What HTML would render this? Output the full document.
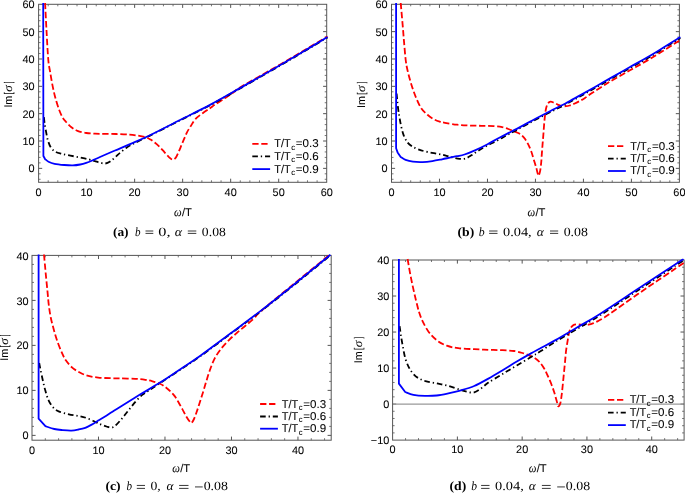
<!DOCTYPE html>
<html><head><meta charset="utf-8"><style>
html,body{margin:0;padding:0;background:#fff;}
svg{display:block;text-rendering:geometricPrecision;filter:blur(0.3px);}
text{font-family:"Liberation Sans",sans-serif;fill:#000;stroke:#000;stroke-width:0.06px;}
.tl{font-size:10.9px;}
.lg{font-size:11.4px;}
.sub{font-size:8px;}
.al{font-size:11.2px;}
.it{font-family:"Liberation Serif",serif;font-style:italic;font-size:12px;}
.cb{font-family:"Liberation Serif",serif;font-weight:bold;font-size:12.6px;stroke-width:0;}
.ci{font-family:"Liberation Serif",serif;font-style:italic;font-size:12.6px;stroke-width:0;}
.cr{font-family:"Liberation Serif",serif;font-size:12.6px;stroke-width:0;}
</style></head><body>
<svg width="685" height="493" viewBox="0 0 685 493">
<rect width="685" height="493" fill="#fff"/>
<clipPath id="ca"><rect x="37.1" y="2.8" width="291.1" height="181"/></clipPath>
<path d="M48.2 182.3v-2M48.2 4.3v2M57.81 182.3v-2M57.81 4.3v2M67.41 182.3v-2M67.41 4.3v2M77.01 182.3v-2M77.01 4.3v2M96.22 182.3v-2M96.22 4.3v2M105.82 182.3v-2M105.82 4.3v2M115.43 182.3v-2M115.43 4.3v2M125.03 182.3v-2M125.03 4.3v2M144.24 182.3v-2M144.24 4.3v2M153.84 182.3v-2M153.84 4.3v2M163.44 182.3v-2M163.44 4.3v2M173.05 182.3v-2M173.05 4.3v2M192.25 182.3v-2M192.25 4.3v2M201.86 182.3v-2M201.86 4.3v2M211.46 182.3v-2M211.46 4.3v2M221.06 182.3v-2M221.06 4.3v2M240.27 182.3v-2M240.27 4.3v2M249.87 182.3v-2M249.87 4.3v2M259.48 182.3v-2M259.48 4.3v2M269.08 182.3v-2M269.08 4.3v2M288.29 182.3v-2M288.29 4.3v2M297.89 182.3v-2M297.89 4.3v2M307.49 182.3v-2M307.49 4.3v2M317.1 182.3v-2M317.1 4.3v2M38.6 179.29h2M326.7 179.29h-2M38.6 173.82h2M326.7 173.82h-2M38.6 162.89h2M326.7 162.89h-2M38.6 157.42h2M326.7 157.42h-2M38.6 151.95h2M326.7 151.95h-2M38.6 146.48h2M326.7 146.48h-2M38.6 135.54h2M326.7 135.54h-2M38.6 130.08h2M326.7 130.08h-2M38.6 124.61h2M326.7 124.61h-2M38.6 119.14h2M326.7 119.14h-2M38.6 108.2h2M326.7 108.2h-2M38.6 102.73h2M326.7 102.73h-2M38.6 97.26h2M326.7 97.26h-2M38.6 91.8h2M326.7 91.8h-2M38.6 80.86h2M326.7 80.86h-2M38.6 75.39h2M326.7 75.39h-2M38.6 69.92h2M326.7 69.92h-2M38.6 64.45h2M326.7 64.45h-2M38.6 53.52h2M326.7 53.52h-2M38.6 48.05h2M326.7 48.05h-2M38.6 42.58h2M326.7 42.58h-2M38.6 37.11h2M326.7 37.11h-2M38.6 26.17h2M326.7 26.17h-2M38.6 20.71h2M326.7 20.71h-2M38.6 15.24h2M326.7 15.24h-2M38.6 9.77h2M326.7 9.77h-2" stroke="#777" stroke-width="1" fill="none"/>
<path d="M86.62 182.3v-3.6M86.62 4.3v3.6M134.63 182.3v-3.6M134.63 4.3v3.6M182.65 182.3v-3.6M182.65 4.3v3.6M230.67 182.3v-3.6M230.67 4.3v3.6M278.68 182.3v-3.6M278.68 4.3v3.6M38.6 168.36h3.6M326.7 168.36h-3.6M38.6 141.01h3.6M326.7 141.01h-3.6M38.6 113.67h3.6M326.7 113.67h-3.6M38.6 86.33h3.6M326.7 86.33h-3.6M38.6 58.99h3.6M326.7 58.99h-3.6M38.6 31.64h3.6M326.7 31.64h-3.6" stroke="#555" stroke-width="1" fill="none"/>
<rect x="38.6" y="4.3" width="288.1" height="178" stroke="#555" stroke-width="1" fill="none"/>
<text x="38.6" y="196" class="tl" text-anchor="middle">0</text>
<text x="86.62" y="196" class="tl" text-anchor="middle">10</text>
<text x="134.63" y="196" class="tl" text-anchor="middle">20</text>
<text x="182.65" y="196" class="tl" text-anchor="middle">30</text>
<text x="230.67" y="196" class="tl" text-anchor="middle">40</text>
<text x="278.68" y="196" class="tl" text-anchor="middle">50</text>
<text x="326.7" y="196" class="tl" text-anchor="middle">60</text>
<text x="34.6" y="172.46" class="tl" text-anchor="end">0</text>
<text x="34.6" y="145.11" class="tl" text-anchor="end">10</text>
<text x="34.6" y="117.77" class="tl" text-anchor="end">20</text>
<text x="34.6" y="90.43" class="tl" text-anchor="end">30</text>
<text x="34.6" y="63.09" class="tl" text-anchor="end">40</text>
<text x="34.6" y="35.74" class="tl" text-anchor="end">50</text>
<text x="34.6" y="8.4" class="tl" text-anchor="end">60</text>
<g clip-path="url(#ca)">
<path d="M45.1 3C45.33 7.57 45.97 20.9 46.5 30.4C47.03 39.9 47.68 53.03 48.3 60C48.92 66.97 49.53 68.15 50.2 72.2C50.87 76.25 51.5 80.25 52.3 84.3C53.1 88.35 53.93 92.45 55 96.5C56.07 100.55 57.45 105.13 58.7 108.6C59.95 112.07 61.27 115.07 62.5 117.3C63.73 119.53 64.62 120.33 66.1 122C67.58 123.67 69.5 125.83 71.4 127.3C73.3 128.77 75.02 129.85 77.5 130.8C79.98 131.75 83.38 132.52 86.3 133C89.22 133.48 92.08 133.55 95 133.7C97.92 133.85 100.25 133.85 103.8 133.9C107.35 133.95 112.03 133.88 116.3 134C120.57 134.12 125.75 134.32 129.4 134.6C133.05 134.88 135.45 135.25 138.2 135.7C140.95 136.15 143.85 136.65 145.9 137.3C147.95 137.95 148.98 138.68 150.5 139.6C152.02 140.52 153.48 141.58 155 142.8C156.52 144.02 158.07 145.38 159.6 146.9C161.13 148.42 162.68 150.23 164.2 151.9C165.72 153.57 167.32 155.62 168.7 156.9C170.08 158.18 171.32 159.48 172.5 159.6C173.68 159.72 174.75 158.95 175.8 157.6C176.85 156.25 177.85 153.58 178.8 151.5C179.75 149.42 180.6 147.23 181.5 145.1C182.4 142.97 183.28 140.83 184.2 138.7C185.12 136.57 185.93 134.37 187 132.3C188.07 130.23 189.17 128.55 190.6 126.3C192.03 124.05 193.58 120.98 195.6 118.8C197.62 116.62 200.3 114.97 202.7 113.2C205.1 111.43 207.93 109.65 210 108.2C212.07 106.75 212.55 106.22 215.1 104.5C217.65 102.78 222.32 99.85 225.3 97.9C228.28 95.95 230.55 94.53 233 92.8C235.45 91.07 233.83 91.23 240 87.5C246.17 83.77 260 76.17 270 70.4C280 64.63 290.42 58.57 300 52.9C309.58 47.23 322.92 39.15 327.5 36.4" stroke="#f00" stroke-width="1.8" fill="none" stroke-linejoin="round" stroke-dasharray="6.3 2.7"/>
<path d="M43.9 117.2C44.02 118.23 44.23 120.95 44.6 123.4C44.97 125.85 45.55 129.07 46.1 131.9C46.65 134.73 47.08 137.77 47.9 140.4C48.72 143.03 49.68 145.77 51 147.7C52.32 149.63 53.98 150.98 55.8 152C57.62 153.02 59.47 153.2 61.9 153.8C64.33 154.4 67.35 154.98 70.4 155.6C73.45 156.22 77.15 156.88 80.2 157.5C83.25 158.12 86.27 158.7 88.7 159.3C91.13 159.9 92.92 160.53 94.8 161.1C96.68 161.67 98.25 162.3 100 162.7C101.75 163.1 103.62 163.7 105.3 163.5C106.98 163.3 108.42 162.57 110.1 161.5C111.78 160.43 113.65 158.63 115.4 157.1C117.15 155.57 118.7 153.9 120.6 152.3C122.5 150.7 124.9 148.82 126.8 147.5C128.7 146.18 130.4 145.27 132 144.4C133.6 143.53 134.73 143.1 136.4 142.3C138.07 141.5 139.73 140.72 142 139.6C144.27 138.48 143.67 138.8 150 135.6C156.33 132.4 170 125.45 180 120.4C190 115.35 200 110.62 210 105.3C220 99.98 230 94.15 240 88.5C250 82.85 260 77.17 270 71.4C280 65.63 290.42 59.57 300 53.9C309.58 48.23 322.92 40.15 327.5 37.4" stroke="#000" stroke-width="1.8" fill="none" stroke-linejoin="round" stroke-dasharray="5.6 2.9 1.3 2.9"/>
<path d="M43.2 3L43.4 156L45.2 159.2C45.75 159.62 46.93 160.93 48.5 161.7C50.07 162.47 51.97 163.25 54.6 163.8C57.23 164.35 61.25 164.73 64.3 165C67.35 165.27 70.25 165.48 72.9 165.4C75.55 165.32 77.98 164.92 80.2 164.5C82.42 164.08 84.18 163.57 86.2 162.9C88.22 162.23 90 161.48 92.3 160.5C94.6 159.52 96.22 158.67 100 157C103.78 155.33 110 152.65 115 150.5C120 148.35 124.17 146.65 130 144.1C135.83 141.55 141.67 139.22 150 135.2C158.33 131.18 170 125.05 180 120C190 114.95 200 110.22 210 104.9C220 99.58 230 93.75 240 88.1C250 82.45 260 76.77 270 71C280 65.23 290.42 59.17 300 53.5C309.58 47.83 322.92 39.75 327.5 37" stroke="#0000ff" stroke-width="1.8" fill="none" stroke-linejoin="round"/>
</g>
<path d="M252.3 143.9H268.3" stroke="#f00" stroke-width="1.8" fill="none" stroke-dasharray="6.3 2.7"/>
<text x="274.25" y="147.3" class="lg" textLength="16.5" lengthAdjust="spacingAndGlyphs">T/T</text>
<text x="291.27" y="149.6" class="sub" textLength="3.83" lengthAdjust="spacingAndGlyphs">c</text>
<text x="295.83" y="147.3" class="lg" textLength="22.88" lengthAdjust="spacingAndGlyphs">=0.3</text>
<path d="M252.3 156.4H270.1" stroke="#000" stroke-width="1.8" fill="none" stroke-dasharray="5.6 2.9 1.3 2.9"/>
<text x="274.25" y="159.8" class="lg" textLength="16.5" lengthAdjust="spacingAndGlyphs">T/T</text>
<text x="291.27" y="162.1" class="sub" textLength="3.83" lengthAdjust="spacingAndGlyphs">c</text>
<text x="295.83" y="159.8" class="lg" textLength="22.88" lengthAdjust="spacingAndGlyphs">=0.6</text>
<path d="M252.3 169.1H270.1" stroke="#0000ff" stroke-width="1.8" fill="none"/>
<text x="274.25" y="172.5" class="lg" textLength="16.5" lengthAdjust="spacingAndGlyphs">T/T</text>
<text x="291.27" y="174.8" class="sub" textLength="3.83" lengthAdjust="spacingAndGlyphs">c</text>
<text x="295.83" y="172.5" class="lg" textLength="22.92" lengthAdjust="spacingAndGlyphs">=0.9</text>
<g transform="translate(12 0) rotate(-90)">
<text x="-107.58" y="0" class="al" textLength="11.78" lengthAdjust="spacingAndGlyphs">Im</text>
<text x="-94.47" y="0" class="al" textLength="2.24" lengthAdjust="spacingAndGlyphs">[</text>
<text x="-91.69" y="0" class="it" textLength="6.47" lengthAdjust="spacingAndGlyphs">σ</text>
<text x="-82.94" y="0" class="al" textLength="1.4" lengthAdjust="spacingAndGlyphs">]</text>
</g>
<text x="173.94" y="216.2" class="it" textLength="7.63" lengthAdjust="spacingAndGlyphs">ω</text>
<text x="181.9" y="216.2" class="al" textLength="9.96" lengthAdjust="spacingAndGlyphs">/T</text>
<text x="112.91" y="235.8" class="cb" textLength="15.68" lengthAdjust="spacingAndGlyphs">(a)</text>
<text x="134.99" y="235.8" class="ci" textLength="5.55" lengthAdjust="spacingAndGlyphs">b</text>
<path d="M145.5 231H153.3M145.5 233.4H153.3" stroke="#222" stroke-width="0.9" fill="none"/>
<text x="158.38" y="235.8" class="cr" textLength="12.25" lengthAdjust="spacingAndGlyphs">0,</text>
<text x="174.69" y="235.8" class="ci" textLength="7.28" lengthAdjust="spacingAndGlyphs">α</text>
<path d="M187.8 231H196.3M187.8 233.4H196.3" stroke="#222" stroke-width="0.9" fill="none"/>
<text x="201.88" y="235.8" class="cr" textLength="23.94" lengthAdjust="spacingAndGlyphs">0.08</text>
<clipPath id="cbp"><rect x="390" y="2.8" width="290.9" height="181"/></clipPath>
<path d="M401.1 182.3v-2M401.1 4.3v2M410.69 182.3v-2M410.69 4.3v2M420.29 182.3v-2M420.29 4.3v2M429.89 182.3v-2M429.89 4.3v2M449.08 182.3v-2M449.08 4.3v2M458.68 182.3v-2M458.68 4.3v2M468.27 182.3v-2M468.27 4.3v2M477.87 182.3v-2M477.87 4.3v2M497.06 182.3v-2M497.06 4.3v2M506.66 182.3v-2M506.66 4.3v2M516.26 182.3v-2M516.26 4.3v2M525.85 182.3v-2M525.85 4.3v2M545.05 182.3v-2M545.05 4.3v2M554.64 182.3v-2M554.64 4.3v2M564.24 182.3v-2M564.24 4.3v2M573.84 182.3v-2M573.84 4.3v2M593.03 182.3v-2M593.03 4.3v2M602.63 182.3v-2M602.63 4.3v2M612.22 182.3v-2M612.22 4.3v2M621.82 182.3v-2M621.82 4.3v2M641.01 182.3v-2M641.01 4.3v2M650.61 182.3v-2M650.61 4.3v2M660.21 182.3v-2M660.21 4.3v2M669.8 182.3v-2M669.8 4.3v2M391.5 179.29h2M679.4 179.29h-2M391.5 173.82h2M679.4 173.82h-2M391.5 162.89h2M679.4 162.89h-2M391.5 157.42h2M679.4 157.42h-2M391.5 151.95h2M679.4 151.95h-2M391.5 146.48h2M679.4 146.48h-2M391.5 135.54h2M679.4 135.54h-2M391.5 130.08h2M679.4 130.08h-2M391.5 124.61h2M679.4 124.61h-2M391.5 119.14h2M679.4 119.14h-2M391.5 108.2h2M679.4 108.2h-2M391.5 102.73h2M679.4 102.73h-2M391.5 97.26h2M679.4 97.26h-2M391.5 91.8h2M679.4 91.8h-2M391.5 80.86h2M679.4 80.86h-2M391.5 75.39h2M679.4 75.39h-2M391.5 69.92h2M679.4 69.92h-2M391.5 64.45h2M679.4 64.45h-2M391.5 53.52h2M679.4 53.52h-2M391.5 48.05h2M679.4 48.05h-2M391.5 42.58h2M679.4 42.58h-2M391.5 37.11h2M679.4 37.11h-2M391.5 26.17h2M679.4 26.17h-2M391.5 20.71h2M679.4 20.71h-2M391.5 15.24h2M679.4 15.24h-2M391.5 9.77h2M679.4 9.77h-2" stroke="#777" stroke-width="1" fill="none"/>
<path d="M439.48 182.3v-3.6M439.48 4.3v3.6M487.47 182.3v-3.6M487.47 4.3v3.6M535.45 182.3v-3.6M535.45 4.3v3.6M583.43 182.3v-3.6M583.43 4.3v3.6M631.42 182.3v-3.6M631.42 4.3v3.6M391.5 168.36h3.6M679.4 168.36h-3.6M391.5 141.01h3.6M679.4 141.01h-3.6M391.5 113.67h3.6M679.4 113.67h-3.6M391.5 86.33h3.6M679.4 86.33h-3.6M391.5 58.99h3.6M679.4 58.99h-3.6M391.5 31.64h3.6M679.4 31.64h-3.6" stroke="#555" stroke-width="1" fill="none"/>
<rect x="391.5" y="4.3" width="287.9" height="178" stroke="#555" stroke-width="1" fill="none"/>
<text x="391.5" y="196" class="tl" text-anchor="middle">0</text>
<text x="439.48" y="196" class="tl" text-anchor="middle">10</text>
<text x="487.47" y="196" class="tl" text-anchor="middle">20</text>
<text x="535.45" y="196" class="tl" text-anchor="middle">30</text>
<text x="583.43" y="196" class="tl" text-anchor="middle">40</text>
<text x="631.42" y="196" class="tl" text-anchor="middle">50</text>
<text x="679.4" y="196" class="tl" text-anchor="middle">60</text>
<text x="387.5" y="172.46" class="tl" text-anchor="end">0</text>
<text x="387.5" y="145.11" class="tl" text-anchor="end">10</text>
<text x="387.5" y="117.77" class="tl" text-anchor="end">20</text>
<text x="387.5" y="90.43" class="tl" text-anchor="end">30</text>
<text x="387.5" y="63.09" class="tl" text-anchor="end">40</text>
<text x="387.5" y="35.74" class="tl" text-anchor="end">50</text>
<text x="387.5" y="8.4" class="tl" text-anchor="end">60</text>
<g clip-path="url(#cbp)">
<path d="M400.7 3C401.02 6.55 402.03 17.7 402.6 24.3C403.17 30.9 403.58 36.65 404.1 42.6C404.62 48.55 405.15 55.48 405.7 60C406.25 64.52 406.7 66.45 407.4 69.7C408.1 72.95 408.98 76.25 409.9 79.5C410.82 82.75 411.78 85.97 412.9 89.2C414.02 92.43 415.18 95.68 416.6 98.9C418.02 102.12 419.58 105.85 421.4 108.5C423.22 111.15 425.47 113.03 427.5 114.8C429.53 116.57 431.57 117.97 433.6 119.1C435.63 120.23 437.8 120.98 439.7 121.6C441.6 122.22 442.08 122.28 445 122.8C447.92 123.32 453.13 124.25 457.2 124.7C461.27 125.15 465.35 125.32 469.4 125.5C473.45 125.68 477.45 125.7 481.5 125.8C485.55 125.9 490.25 125.88 493.7 126.1C497.15 126.32 499.55 126.53 502.2 127.1C504.85 127.67 507.37 128.7 509.6 129.5C511.83 130.3 513.7 131.05 515.6 131.9C517.5 132.75 519.42 133.4 521 134.6C522.58 135.8 523.83 137.33 525.1 139.1C526.37 140.87 527.58 143.17 528.6 145.2C529.62 147.23 530.35 148.93 531.2 151.3C532.05 153.67 532.87 156.68 533.7 159.4C534.53 162.12 535.53 165.25 536.2 167.6C536.87 169.95 537.28 172.17 537.7 173.5C538.12 174.83 538.28 176.08 538.7 175.6C539.12 175.12 539.78 172.78 540.2 170.6C540.62 168.42 540.93 165.2 541.2 162.5C541.47 159.8 541.58 157.28 541.8 154.4C542.02 151.52 542.25 148.35 542.5 145.2C542.75 142.05 543.03 138.92 543.3 135.5C543.57 132.08 543.82 128.03 544.1 124.7C544.38 121.37 544.67 118.25 545 115.5C545.33 112.75 545.63 110.17 546.1 108.2C546.57 106.23 547.07 104.78 547.8 103.7C548.53 102.62 549.43 101.85 550.5 101.7C551.57 101.55 552.98 102.32 554.2 102.8C555.42 103.28 556.58 104.07 557.8 104.6C559.02 105.13 560.13 105.73 561.5 106C562.87 106.27 564.63 106.28 566 106.2C567.37 106.12 568.33 105.92 569.7 105.5C571.07 105.08 572.53 104.45 574.2 103.7C575.87 102.95 577.9 101.97 579.7 101C581.5 100.03 582.88 99.27 585 97.9C587.12 96.53 589.65 94.63 592.4 92.8C595.15 90.97 598.57 88.77 601.5 86.9C604.43 85.03 605.25 84.37 610 81.6C614.75 78.83 623.33 74.08 630 70.3C636.67 66.52 641.6 63.95 650 58.9C658.4 53.85 675.33 43.15 680.4 40" stroke="#f00" stroke-width="1.8" fill="none" stroke-linejoin="round" stroke-dasharray="6.3 2.7"/>
<path d="M396.6 93.5C396.72 94.75 397.02 98.25 397.3 101C397.58 103.75 397.93 107.28 398.3 110C398.67 112.72 399 114.47 399.5 117.3C400 120.13 400.58 123.95 401.3 127C402.02 130.05 402.78 133.05 403.8 135.6C404.82 138.15 405.98 140.48 407.4 142.3C408.82 144.12 410.37 145.28 412.3 146.5C414.23 147.72 416.47 148.68 419 149.6C421.53 150.52 424.47 151.3 427.5 152C430.53 152.7 434.28 153.25 437.2 153.8C440.12 154.35 442.48 154.68 445 155.3C447.52 155.92 449.87 156.9 452.3 157.5C454.73 158.1 457.37 158.75 459.6 158.9C461.83 159.05 463.67 159.03 465.7 158.4C467.73 157.77 469.57 156.47 471.8 155.1C474.03 153.73 476.47 151.83 479.1 150.2C481.73 148.57 484.55 146.92 487.6 145.3C490.65 143.68 494.15 142.22 497.4 140.5C500.65 138.78 504.07 136.65 507.1 135C510.13 133.35 512.62 132.2 515.6 130.6C518.58 129 521.77 127.17 525 125.4C528.23 123.63 530.83 122.2 535 120C539.17 117.8 545 114.75 550 112.2C555 109.65 560 107.33 565 104.7C570 102.07 575 99.18 580 96.4C585 93.62 590 90.83 595 88C600 85.17 604.17 82.73 610 79.4C615.83 76.07 623.33 71.78 630 68C636.67 64.22 641.6 61.7 650 56.7C658.4 51.7 675.33 41.12 680.4 38" stroke="#000" stroke-width="1.8" fill="none" stroke-linejoin="round" stroke-dasharray="5.6 2.9 1.3 2.9"/>
<path d="M396.1 3L396.1 148.3L397.6 152.4L400.7 156.9C401.52 157.4 403.57 159.1 405.6 159.9C407.63 160.7 410.07 161.33 412.9 161.7C415.73 162.07 419.35 162.2 422.6 162.1C425.85 162 429.17 161.57 432.4 161.1C435.63 160.63 439.07 159.88 442 159.3C444.93 158.72 447.5 158.12 450 157.6C452.5 157.08 454.58 156.72 457 156.2C459.42 155.68 461.42 155.52 464.5 154.5C467.58 153.48 471.65 151.82 475.5 150.1C479.35 148.38 483.55 146.3 487.6 144.2C491.65 142.1 495.73 139.65 499.8 137.5C503.87 135.35 507.8 133.48 512 131.3C516.2 129.12 521.17 126.45 525 124.4C528.83 122.35 530.83 121.2 535 119C539.17 116.8 545 113.75 550 111.2C555 108.65 560 106.33 565 103.7C570 101.07 575 98.18 580 95.4C585 92.62 590 89.83 595 87C600 84.17 604.17 81.73 610 78.4C615.83 75.07 623.33 70.78 630 67C636.67 63.22 641.6 60.7 650 55.7C658.4 50.7 675.33 40.12 680.4 37" stroke="#0000ff" stroke-width="1.8" fill="none" stroke-linejoin="round"/>
</g>
<path d="M608 146.2H624" stroke="#f00" stroke-width="1.8" fill="none" stroke-dasharray="6.3 2.7"/>
<text x="630.35" y="149.5" class="lg" textLength="16.5" lengthAdjust="spacingAndGlyphs">T/T</text>
<text x="647.37" y="151.8" class="sub" textLength="3.83" lengthAdjust="spacingAndGlyphs">c</text>
<text x="651.93" y="149.5" class="lg" textLength="22.88" lengthAdjust="spacingAndGlyphs">=0.3</text>
<path d="M608 158.7H625.8" stroke="#000" stroke-width="1.8" fill="none" stroke-dasharray="5.6 2.9 1.3 2.9"/>
<text x="630.35" y="162" class="lg" textLength="16.5" lengthAdjust="spacingAndGlyphs">T/T</text>
<text x="647.37" y="164.3" class="sub" textLength="3.83" lengthAdjust="spacingAndGlyphs">c</text>
<text x="651.93" y="162" class="lg" textLength="22.88" lengthAdjust="spacingAndGlyphs">=0.6</text>
<path d="M608 171H625.8" stroke="#0000ff" stroke-width="1.8" fill="none"/>
<text x="630.35" y="174.3" class="lg" textLength="16.5" lengthAdjust="spacingAndGlyphs">T/T</text>
<text x="647.37" y="176.6" class="sub" textLength="3.83" lengthAdjust="spacingAndGlyphs">c</text>
<text x="651.93" y="174.3" class="lg" textLength="22.92" lengthAdjust="spacingAndGlyphs">=0.9</text>
<g transform="translate(365 0) rotate(-90)">
<text x="-107.88" y="0" class="al" textLength="11.78" lengthAdjust="spacingAndGlyphs">Im</text>
<text x="-94.77" y="0" class="al" textLength="2.24" lengthAdjust="spacingAndGlyphs">[</text>
<text x="-91.99" y="0" class="it" textLength="6.47" lengthAdjust="spacingAndGlyphs">σ</text>
<text x="-83.24" y="0" class="al" textLength="1.4" lengthAdjust="spacingAndGlyphs">]</text>
</g>
<text x="527.44" y="216.4" class="it" textLength="7.63" lengthAdjust="spacingAndGlyphs">ω</text>
<text x="535.4" y="216.4" class="al" textLength="9.96" lengthAdjust="spacingAndGlyphs">/T</text>
<text x="457.5" y="235.8" class="cb" textLength="16.7" lengthAdjust="spacingAndGlyphs">(b)</text>
<text x="478.86" y="235.8" class="ci" textLength="5.89" lengthAdjust="spacingAndGlyphs">b</text>
<path d="M489.1 231H497.5M489.1 233.4H497.5" stroke="#222" stroke-width="0.9" fill="none"/>
<text x="503.05" y="235.8" class="cr" textLength="28.65" lengthAdjust="spacingAndGlyphs">0.04,</text>
<text x="536.7" y="235.8" class="ci" textLength="7.08" lengthAdjust="spacingAndGlyphs">α</text>
<path d="M550 231H558.2M550 233.4H558.2" stroke="#222" stroke-width="0.9" fill="none"/>
<text x="563.67" y="235.8" class="cr" textLength="24.26" lengthAdjust="spacingAndGlyphs">0.08</text>
<clipPath id="cc"><rect x="30.5" y="253.9" width="302.2" height="187.8"/></clipPath>
<path d="M45.3 440.2v-2M45.3 255.4v2M58.6 440.2v-2M58.6 255.4v2M71.89 440.2v-2M71.89 255.4v2M85.19 440.2v-2M85.19 255.4v2M111.79 440.2v-2M111.79 255.4v2M125.08 440.2v-2M125.08 255.4v2M138.38 440.2v-2M138.38 255.4v2M151.68 440.2v-2M151.68 255.4v2M178.28 440.2v-2M178.28 255.4v2M191.57 440.2v-2M191.57 255.4v2M204.87 440.2v-2M204.87 255.4v2M218.17 440.2v-2M218.17 255.4v2M244.76 440.2v-2M244.76 255.4v2M258.06 440.2v-2M258.06 255.4v2M271.36 440.2v-2M271.36 255.4v2M284.66 440.2v-2M284.66 255.4v2M311.25 440.2v-2M311.25 255.4v2M324.55 440.2v-2M324.55 255.4v2M32 426.39h2M331.2 426.39h-2M32 417.39h2M331.2 417.39h-2M32 408.39h2M331.2 408.39h-2M32 399.39h2M331.2 399.39h-2M32 381.39h2M331.2 381.39h-2M32 372.39h2M331.2 372.39h-2M32 363.39h2M331.2 363.39h-2M32 354.39h2M331.2 354.39h-2M32 336.39h2M331.2 336.39h-2M32 327.39h2M331.2 327.39h-2M32 318.39h2M331.2 318.39h-2M32 309.4h2M331.2 309.4h-2M32 291.4h2M331.2 291.4h-2M32 282.4h2M331.2 282.4h-2M32 273.4h2M331.2 273.4h-2M32 264.4h2M331.2 264.4h-2" stroke="#777" stroke-width="1" fill="none"/>
<path d="M98.49 440.2v-3.6M98.49 255.4v3.6M164.98 440.2v-3.6M164.98 255.4v3.6M231.47 440.2v-3.6M231.47 255.4v3.6M297.96 440.2v-3.6M297.96 255.4v3.6M32 435.39h3.6M331.2 435.39h-3.6M32 390.39h3.6M331.2 390.39h-3.6M32 345.39h3.6M331.2 345.39h-3.6M32 300.4h3.6M331.2 300.4h-3.6" stroke="#555" stroke-width="1" fill="none"/>
<rect x="32" y="255.4" width="299.2" height="184.8" stroke="#555" stroke-width="1" fill="none"/>
<text x="32" y="453.5" class="tl" text-anchor="middle">0</text>
<text x="98.49" y="453.5" class="tl" text-anchor="middle">10</text>
<text x="164.98" y="453.5" class="tl" text-anchor="middle">20</text>
<text x="231.47" y="453.5" class="tl" text-anchor="middle">30</text>
<text x="297.96" y="453.5" class="tl" text-anchor="middle">40</text>
<text x="28.6" y="439.49" class="tl" text-anchor="end">0</text>
<text x="28.6" y="394.49" class="tl" text-anchor="end">10</text>
<text x="28.6" y="349.49" class="tl" text-anchor="end">20</text>
<text x="28.6" y="304.5" class="tl" text-anchor="end">30</text>
<text x="28.6" y="259.5" class="tl" text-anchor="end">40</text>
<g clip-path="url(#cc)">
<path d="M44 254.5C44.3 257.8 45.2 267.95 45.8 274.3C46.4 280.65 47.1 287.48 47.6 292.6C48.1 297.72 48.28 300.9 48.8 305C49.32 309.1 49.88 313.15 50.7 317.2C51.52 321.25 52.58 325.25 53.7 329.3C54.82 333.35 55.97 337.43 57.4 341.5C58.83 345.57 60.87 350.53 62.3 353.7C63.73 356.87 64.35 358.18 66 360.5C67.65 362.82 69.82 365.55 72.2 367.6C74.58 369.65 77.6 371.42 80.3 372.8C83 374.18 85.42 375.1 88.4 375.9C91.38 376.7 94.6 377.22 98.2 377.6C101.8 377.98 106.37 378.07 110 378.2C113.63 378.33 115.8 378.3 120 378.4C124.2 378.5 130.97 378.57 135.2 378.8C139.43 379.03 142.52 379.38 145.4 379.8C148.28 380.22 150.07 380.65 152.5 381.3C154.93 381.95 157.83 382.72 160 383.7C162.17 384.68 163.73 385.88 165.5 387.2C167.27 388.52 169.03 390.07 170.6 391.6C172.17 393.13 173.58 394.63 174.9 396.4C176.22 398.17 177.28 400.12 178.5 402.2C179.72 404.28 180.98 406.67 182.2 408.9C183.42 411.13 184.62 413.58 185.8 415.6C186.98 417.62 188.37 419.78 189.3 421C190.23 422.22 190.62 423.23 191.4 422.9C192.18 422.57 193.03 421.08 194 419C194.97 416.92 196.13 413.5 197.2 410.4C198.27 407.3 199.35 403.68 200.4 400.4C201.45 397.12 202.48 394 203.5 390.7C204.52 387.4 205.42 384.08 206.5 380.6C207.58 377.12 208.65 373.47 210 369.8C211.35 366.13 212.75 362.12 214.6 358.6C216.45 355.08 218.67 351.83 221.1 348.7C223.53 345.57 226.5 342.5 229.2 339.8C231.9 337.1 234.6 334.83 237.3 332.5C240 330.17 242.7 328.07 245.4 325.8C248.1 323.53 250.73 321.5 253.5 318.9C256.27 316.3 255.08 316.18 262 310.2C268.92 304.22 283.6 292.35 295 283C306.4 273.65 324.5 258.92 330.4 254.1" stroke="#f00" stroke-width="1.8" fill="none" stroke-linejoin="round" stroke-dasharray="6.3 2.7"/>
<path d="M39.2 363C39.42 364.12 39.87 366.68 40.5 369.7C41.13 372.72 42.18 377.58 43 381.1C43.82 384.62 44.45 387.55 45.4 390.8C46.35 394.05 47.35 397.75 48.7 400.6C50.05 403.45 51.75 406.07 53.5 407.9C55.25 409.73 56.63 410.52 59.2 411.6C61.77 412.68 65.65 413.67 68.9 414.4C72.15 415.13 75.72 415.38 78.7 416C81.68 416.62 84.1 417.15 86.8 418.1C89.5 419.05 92.62 420.67 94.9 421.7C97.18 422.73 98.57 423.5 100.5 424.3C102.43 425.1 104.62 425.95 106.5 426.5C108.38 427.05 110.18 427.87 111.8 427.6C113.42 427.33 114.38 426.57 116.2 424.9C118.02 423.23 120.53 420.17 122.7 417.6C124.87 415.03 127.03 412.2 129.2 409.5C131.37 406.8 133.53 403.83 135.7 401.4C137.87 398.97 140.03 396.72 142.2 394.9C144.37 393.08 145.73 392.47 148.7 390.5C151.67 388.53 154.78 386.53 160 383.1C165.22 379.67 173.33 374.33 180 369.9C186.67 365.47 191.67 362.43 200 356.5C208.33 350.57 220 341.73 230 334.3C240 326.87 249.17 320.25 260 311.9C270.83 303.55 283.27 293.63 295 284.2C306.73 274.77 324.5 260.12 330.4 255.3" stroke="#000" stroke-width="1.8" fill="none" stroke-linejoin="round" stroke-dasharray="5.6 2.9 1.3 2.9"/>
<path d="M38.6 254.5L38.6 418.7L45.4 426.2C46.88 426.67 51.45 428.35 54.3 429C57.15 429.65 59.65 429.83 62.5 430.1C65.35 430.37 68.7 430.7 71.4 430.6C74.1 430.5 76.4 429.97 78.7 429.5C81 429.03 83.03 428.62 85.2 427.8C87.37 426.98 89.53 425.8 91.7 424.6C93.87 423.4 96.05 421.9 98.2 420.6C100.35 419.3 102.3 418.23 104.6 416.8C106.9 415.37 109.43 413.65 112 412C114.57 410.35 115.33 409.8 120 406.9C124.67 404 133.33 398.65 140 394.6C146.67 390.55 153.33 386.8 160 382.6C166.67 378.4 173.33 373.83 180 369.4C186.67 364.97 191.67 361.93 200 356C208.33 350.07 220 341.23 230 333.8C240 326.37 249.17 319.75 260 311.4C270.83 303.05 283.27 293.13 295 283.7C306.73 274.27 324.5 259.62 330.4 254.8" stroke="#0000ff" stroke-width="1.8" fill="none" stroke-linejoin="round"/>
</g>
<path d="M260.1 404H276.1" stroke="#f00" stroke-width="1.8" fill="none" stroke-dasharray="6.3 2.7"/>
<text x="281.75" y="407.6" class="lg" textLength="16.5" lengthAdjust="spacingAndGlyphs">T/T</text>
<text x="298.77" y="409.9" class="sub" textLength="3.83" lengthAdjust="spacingAndGlyphs">c</text>
<text x="303.33" y="407.6" class="lg" textLength="22.88" lengthAdjust="spacingAndGlyphs">=0.3</text>
<path d="M260.1 416.5H277.9" stroke="#000" stroke-width="1.8" fill="none" stroke-dasharray="5.6 2.9 1.3 2.9"/>
<text x="281.75" y="420.1" class="lg" textLength="16.5" lengthAdjust="spacingAndGlyphs">T/T</text>
<text x="298.77" y="422.4" class="sub" textLength="3.83" lengthAdjust="spacingAndGlyphs">c</text>
<text x="303.33" y="420.1" class="lg" textLength="22.88" lengthAdjust="spacingAndGlyphs">=0.6</text>
<path d="M260.1 428.7H277.9" stroke="#0000ff" stroke-width="1.8" fill="none"/>
<text x="281.75" y="432.3" class="lg" textLength="16.5" lengthAdjust="spacingAndGlyphs">T/T</text>
<text x="298.77" y="434.6" class="sub" textLength="3.83" lengthAdjust="spacingAndGlyphs">c</text>
<text x="303.33" y="432.3" class="lg" textLength="22.92" lengthAdjust="spacingAndGlyphs">=0.9</text>
<g transform="translate(7.8 0) rotate(-90)">
<text x="-360.63" y="0" class="al" textLength="11.78" lengthAdjust="spacingAndGlyphs">Im</text>
<text x="-347.52" y="0" class="al" textLength="2.24" lengthAdjust="spacingAndGlyphs">[</text>
<text x="-344.74" y="0" class="it" textLength="6.47" lengthAdjust="spacingAndGlyphs">σ</text>
<text x="-335.99" y="0" class="al" textLength="1.4" lengthAdjust="spacingAndGlyphs">]</text>
</g>
<text x="172.24" y="472" class="it" textLength="7.63" lengthAdjust="spacingAndGlyphs">ω</text>
<text x="180.2" y="472" class="al" textLength="9.96" lengthAdjust="spacingAndGlyphs">/T</text>
<text x="105.4" y="490.2" class="cb" textLength="15.2" lengthAdjust="spacingAndGlyphs">(c)</text>
<text x="126.59" y="490.2" class="ci" textLength="5.55" lengthAdjust="spacingAndGlyphs">b</text>
<path d="M136.8 485.45H145M136.8 488.4H145" stroke="#222" stroke-width="0.9" fill="none"/>
<text x="150.48" y="490.2" class="cr" textLength="10.29" lengthAdjust="spacingAndGlyphs">0,</text>
<text x="166.6" y="490.2" class="ci" textLength="6.98" lengthAdjust="spacingAndGlyphs">α</text>
<path d="M179.1 485.45H188.5M179.1 488.4H188.5" stroke="#222" stroke-width="0.9" fill="none"/>
<path d="M195 486.93H202.7" stroke="#222" stroke-width="0.9" fill="none"/>
<text x="203.67" y="490.2" class="cr" textLength="24.36" lengthAdjust="spacingAndGlyphs">0.08</text>
<clipPath id="cd"><rect x="391.1" y="258.5" width="294.5" height="183.1"/></clipPath>
<path d="M405.56 440.1v-2M405.56 260v2M418.51 440.1v-2M418.51 260v2M431.47 440.1v-2M431.47 260v2M444.42 440.1v-2M444.42 260v2M470.33 440.1v-2M470.33 260v2M483.29 440.1v-2M483.29 260v2M496.24 440.1v-2M496.24 260v2M509.2 440.1v-2M509.2 260v2M535.11 440.1v-2M535.11 260v2M548.07 440.1v-2M548.07 260v2M561.02 440.1v-2M561.02 260v2M573.98 440.1v-2M573.98 260v2M599.89 440.1v-2M599.89 260v2M612.84 440.1v-2M612.84 260v2M625.8 440.1v-2M625.8 260v2M638.76 440.1v-2M638.76 260v2M664.67 440.1v-2M664.67 260v2M677.62 440.1v-2M677.62 260v2M392.6 432.9h2M684.1 432.9h-2M392.6 425.69h2M684.1 425.69h-2M392.6 418.49h2M684.1 418.49h-2M392.6 411.28h2M684.1 411.28h-2M392.6 396.88h2M684.1 396.88h-2M392.6 389.67h2M684.1 389.67h-2M392.6 382.47h2M684.1 382.47h-2M392.6 375.26h2M684.1 375.26h-2M392.6 360.86h2M684.1 360.86h-2M392.6 353.65h2M684.1 353.65h-2M392.6 346.45h2M684.1 346.45h-2M392.6 339.24h2M684.1 339.24h-2M392.6 324.84h2M684.1 324.84h-2M392.6 317.63h2M684.1 317.63h-2M392.6 310.43h2M684.1 310.43h-2M392.6 303.22h2M684.1 303.22h-2M392.6 288.82h2M684.1 288.82h-2M392.6 281.61h2M684.1 281.61h-2M392.6 274.41h2M684.1 274.41h-2M392.6 267.2h2M684.1 267.2h-2" stroke="#777" stroke-width="1" fill="none"/>
<path d="M457.38 440.1v-3.6M457.38 260v3.6M522.16 440.1v-3.6M522.16 260v3.6M586.93 440.1v-3.6M586.93 260v3.6M651.71 440.1v-3.6M651.71 260v3.6M392.6 404.08h3.6M684.1 404.08h-3.6M392.6 368.06h3.6M684.1 368.06h-3.6M392.6 332.04h3.6M684.1 332.04h-3.6M392.6 296.02h3.6M684.1 296.02h-3.6" stroke="#555" stroke-width="1" fill="none"/>
<path d="M392.6 404.08H684.1" stroke="#999" stroke-width="1.1" fill="none"/>
<rect x="392.6" y="260" width="291.5" height="180.1" stroke="#555" stroke-width="1" fill="none"/>
<text x="392.6" y="452.9" class="tl" text-anchor="middle">0</text>
<text x="457.38" y="452.9" class="tl" text-anchor="middle">10</text>
<text x="522.16" y="452.9" class="tl" text-anchor="middle">20</text>
<text x="586.93" y="452.9" class="tl" text-anchor="middle">30</text>
<text x="651.71" y="452.9" class="tl" text-anchor="middle">40</text>
<text x="389.3" y="444.2" class="tl" text-anchor="end">−10</text>
<text x="389.3" y="408.18" class="tl" text-anchor="end">0</text>
<text x="389.3" y="372.16" class="tl" text-anchor="end">10</text>
<text x="389.3" y="336.14" class="tl" text-anchor="end">20</text>
<text x="389.3" y="300.12" class="tl" text-anchor="end">30</text>
<text x="389.3" y="264.1" class="tl" text-anchor="end">40</text>
<g clip-path="url(#cd)">
<path d="M407.6 259C408.02 261.38 409.18 268.48 410.1 273.3C411.02 278.12 412.08 283.25 413.1 287.9C414.12 292.55 415.18 297.08 416.2 301.2C417.22 305.32 418.1 309.2 419.2 312.6C420.3 316 421.18 318.33 422.8 321.6C424.42 324.87 426.52 329.05 428.9 332.2C431.28 335.35 434.12 338.25 437.1 340.5C440.08 342.75 443.28 344.42 446.8 345.7C450.32 346.98 453.63 347.62 458.2 348.2C462.77 348.78 469.17 348.93 474.2 349.2C479.23 349.47 483.67 349.63 488.4 349.8C493.13 349.97 498.33 350 502.6 350.2C506.87 350.4 510.68 350.53 514 351C517.32 351.47 519.9 352.23 522.5 353C525.1 353.77 527.5 354.73 529.6 355.6C531.7 356.47 533.42 357.1 535.1 358.2C536.78 359.3 538.22 360.53 539.7 362.2C541.18 363.87 542.68 365.98 544 368.2C545.32 370.42 546.38 372.87 547.6 375.5C548.82 378.13 550.18 381.15 551.3 384C552.42 386.85 553.4 389.75 554.3 392.6C555.2 395.45 556.05 398.83 556.7 401.1C557.35 403.37 557.62 405.78 558.2 406.2C558.78 406.62 559.65 405.27 560.2 403.6C560.75 401.93 561.1 399.05 561.5 396.2C561.9 393.35 562.22 390.15 562.6 386.5C562.98 382.85 563.4 378.35 563.8 374.3C564.2 370.25 564.62 366.17 565 362.2C565.38 358.23 565.65 354.13 566.1 350.5C566.55 346.87 567.18 343.43 567.7 340.4C568.22 337.37 568.62 334.5 569.2 332.3C569.78 330.1 570.35 328.47 571.2 327.2C572.05 325.93 573.12 325.17 574.3 324.7C575.48 324.23 576.78 324.35 578.3 324.4C579.82 324.45 581.72 324.95 583.4 325C585.08 325.05 586.72 325 588.4 324.7C590.08 324.4 591.8 323.87 593.5 323.2C595.2 322.53 596.92 321.58 598.6 320.7C600.28 319.82 601.92 318.92 603.6 317.9C605.28 316.88 602.63 318.82 608.7 314.6C614.77 310.38 627.45 301.23 640 292.6C652.55 283.97 676.67 267.77 684 262.8" stroke="#f00" stroke-width="1.8" fill="none" stroke-linejoin="round" stroke-dasharray="6.3 2.7"/>
<path d="M399.6 326.2C399.83 327.83 400.43 332.48 401 336C401.57 339.52 402.27 343.52 403 347.3C403.73 351.08 404.4 355.32 405.4 358.7C406.4 362.08 407.73 365.13 409 367.6C410.27 370.07 411.5 371.78 413 373.5C414.5 375.22 415.92 376.63 418 377.9C420.08 379.17 422.38 380.18 425.5 381.1C428.62 382.02 432.88 382.6 436.7 383.4C440.52 384.2 444.5 384.83 448.4 385.9C452.3 386.97 456.98 388.82 460.1 389.8C463.22 390.78 464.75 391.37 467.1 391.8C469.45 392.23 471.83 392.98 474.2 392.4C476.57 391.82 478.93 389.93 481.3 388.3C483.67 386.67 484.85 384.98 488.4 382.6C491.95 380.22 497.87 376.85 502.6 374C507.33 371.15 512.07 368.33 516.8 365.5C521.53 362.67 527.13 359.32 531 357C534.87 354.68 536 354.12 540 351.6C544 349.08 548.83 345.67 555 341.9C561.17 338.13 569.5 333.42 577 329C584.5 324.58 589.5 322.07 600 315.4C610.5 308.73 626.08 298.17 640 289C653.92 279.83 676.25 265.17 683.5 260.4" stroke="#000" stroke-width="1.8" fill="none" stroke-linejoin="round" stroke-dasharray="5.6 2.9 1.3 2.9"/>
<path d="M398.9 259L398.9 383.6L405.2 392C406.57 392.47 410.1 394.15 413.4 394.8C416.7 395.45 421.12 395.78 425 395.9C428.88 396.02 432.8 395.92 436.7 395.5C440.6 395.08 444.5 394.22 448.4 393.4C452.3 392.58 455.8 391.83 460.1 390.6C464.4 389.37 469.48 388 474.2 386C478.92 384 483.67 381.22 488.4 378.6C493.13 375.98 497.87 373.13 502.6 370.3C507.33 367.47 512.07 364.42 516.8 361.6C521.53 358.78 527.13 355.58 531 353.4C534.87 351.22 536 350.67 540 348.5C544 346.33 548.83 343.9 555 340.4C561.17 336.9 569.5 331.92 577 327.5C584.5 323.08 589.5 320.55 600 313.9C610.5 307.25 626.08 296.75 640 287.6C653.92 278.45 676.25 263.77 683.5 259" stroke="#0000ff" stroke-width="1.8" fill="none" stroke-linejoin="round"/>
</g>
<path d="M608 399.9H624" stroke="#f00" stroke-width="1.8" fill="none" stroke-dasharray="6.3 2.7"/>
<text x="629.65" y="403.2" class="lg" textLength="16.5" lengthAdjust="spacingAndGlyphs">T/T</text>
<text x="646.67" y="405.5" class="sub" textLength="3.83" lengthAdjust="spacingAndGlyphs">c</text>
<text x="651.23" y="403.2" class="lg" textLength="22.88" lengthAdjust="spacingAndGlyphs">=0.3</text>
<path d="M608 412.6H625.8" stroke="#000" stroke-width="1.8" fill="none" stroke-dasharray="5.6 2.9 1.3 2.9"/>
<text x="629.65" y="415.9" class="lg" textLength="16.5" lengthAdjust="spacingAndGlyphs">T/T</text>
<text x="646.67" y="418.2" class="sub" textLength="3.83" lengthAdjust="spacingAndGlyphs">c</text>
<text x="651.23" y="415.9" class="lg" textLength="22.88" lengthAdjust="spacingAndGlyphs">=0.6</text>
<path d="M608 425.1H625.8" stroke="#0000ff" stroke-width="1.8" fill="none"/>
<text x="629.65" y="428.4" class="lg" textLength="16.5" lengthAdjust="spacingAndGlyphs">T/T</text>
<text x="646.67" y="430.7" class="sub" textLength="3.83" lengthAdjust="spacingAndGlyphs">c</text>
<text x="651.23" y="428.4" class="lg" textLength="22.92" lengthAdjust="spacingAndGlyphs">=0.9</text>
<g transform="translate(361.6 0) rotate(-90)">
<text x="-363.23" y="0" class="al" textLength="11.78" lengthAdjust="spacingAndGlyphs">Im</text>
<text x="-350.12" y="0" class="al" textLength="2.24" lengthAdjust="spacingAndGlyphs">[</text>
<text x="-347.34" y="0" class="it" textLength="6.47" lengthAdjust="spacingAndGlyphs">σ</text>
<text x="-338.59" y="0" class="al" textLength="1.4" lengthAdjust="spacingAndGlyphs">]</text>
</g>
<text x="528.74" y="472.2" class="it" textLength="7.63" lengthAdjust="spacingAndGlyphs">ω</text>
<text x="536.7" y="472.2" class="al" textLength="9.96" lengthAdjust="spacingAndGlyphs">/T</text>
<text x="449.5" y="490.2" class="cb" textLength="16.7" lengthAdjust="spacingAndGlyphs">(d)</text>
<text x="471.27" y="490.2" class="ci" textLength="5.78" lengthAdjust="spacingAndGlyphs">b</text>
<path d="M481.1 485.45H489.5M481.1 488.4H489.5" stroke="#222" stroke-width="0.9" fill="none"/>
<text x="495.05" y="490.2" class="cr" textLength="28.75" lengthAdjust="spacingAndGlyphs">0.04,</text>
<text x="528.8" y="490.2" class="ci" textLength="6.98" lengthAdjust="spacingAndGlyphs">α</text>
<path d="M541.9 485.45H550.7M541.9 488.4H550.7" stroke="#222" stroke-width="0.9" fill="none"/>
<path d="M557.2 486.93H564.9" stroke="#222" stroke-width="0.9" fill="none"/>
<text x="565.87" y="490.2" class="cr" textLength="24.36" lengthAdjust="spacingAndGlyphs">0.08</text>
</svg>
</body></html>
